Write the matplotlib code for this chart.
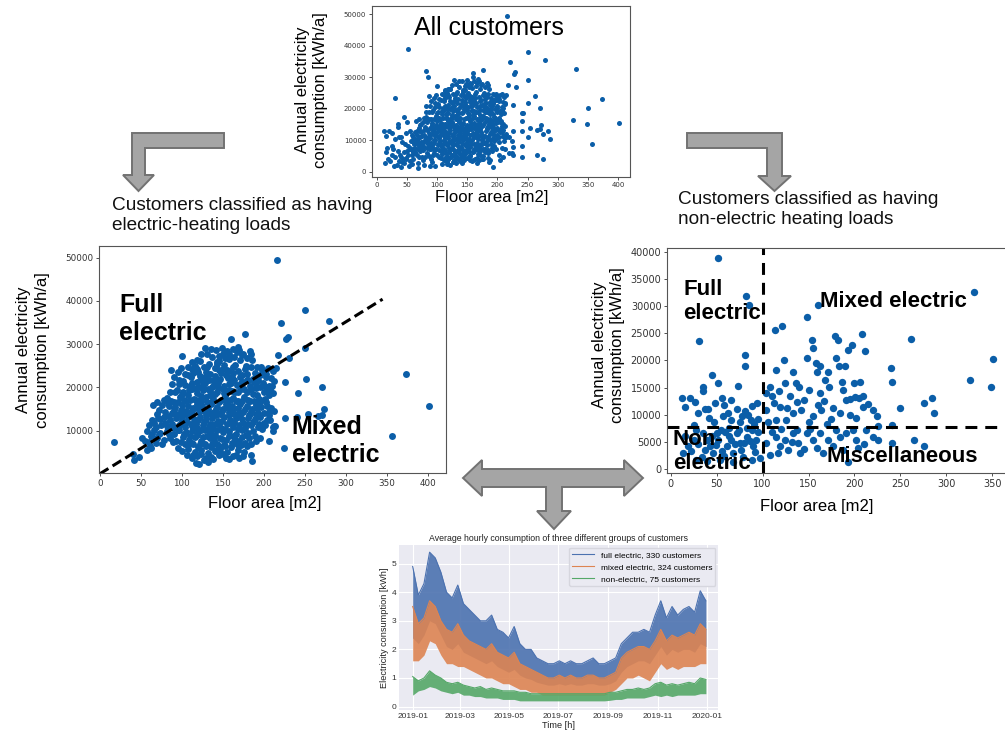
import numpy as np
import pandas as pd
import matplotlib
matplotlib.use('Agg')
import matplotlib.pyplot as plt
import matplotlib.dates as mdates
from matplotlib.patches import Polygon

plt.rcParams['font.family'] = ['Liberation Sans', 'DejaVu Sans']

# ---------------------------------------------------------------- data
# customers with electric heating loads: (floor area m2, kWh/a)
elec_pts = [
    (216, 49500), (250, 37900), (279, 35300), (221, 34900), (227, 31100),
    (230, 31700), (250, 29000), (231, 26900), (217, 27400), (226, 21300),
    (251, 21900), (271, 20100), (242, 18700), (241, 13100), (254, 13900),
    (271, 13600), (273, 15000), (266, 13300), (373, 23200), (401, 15600),
    (356, 8700), (226, 12800), (215, 24400), (214, 11000), (17, 7400),
    (100, 27200), (119, 26400), (128, 29000), (142, 28700), (155, 28300),
    (160, 31300), (162, 28900), (167, 28200), (170, 28700), (177, 32400),
    (183, 28300), (150, 27600), (137, 27000), (175, 27800),
    (87, 24000), (108, 24700), (113, 25800), (122, 26200), (127, 24600),
    (133, 25300), (140, 24400), (146, 26000), (152, 25100), (158, 26500),
    (163, 24600), (171, 26300), (178, 25000), (186, 26400), (192, 24800),
    (198, 24000), (205, 24400), (145, 23900), (118, 24200), (155, 24000),
    (90, 22300), (95, 23500), (97, 20700), (102, 21500), (107, 22800),
    (110, 20200), (114, 23300), (118, 21200), (122, 22600), (126, 20500),
    (129, 23500), (133, 21800), (137, 20100), (141, 22700), (144, 21000),
    (148, 23300), (152, 20400), (156, 22200), (160, 21100), (163, 23400),
    (167, 20500), (171, 22400), (175, 21300), (179, 23100), (183, 20300),
    (187, 22000), (191, 20900), (195, 22800), (199, 21000), (203, 22400),
    (207, 20400), (209, 22100), (201, 23600), (213, 21500),
    (82, 17500), (86, 18900), (90, 16700), (94, 19500), (98, 17800),
    (101, 19000), (105, 16800), (108, 18200), (112, 19700), (115, 17200),
    (119, 18600), (123, 16800), (126, 19300), (130, 17700), (134, 19100),
    (137, 16600), (141, 18500), (144, 19800), (148, 17100), (151, 18800),
    (155, 16700), (158, 19400), (162, 17600), (165, 18900), (169, 16900),
    (172, 19600), (176, 17800), (180, 19000), (183, 16800), (187, 18400),
    (190, 19800), (194, 17400), (196, 17100), (200, 18900), (203, 16700),
    (206, 18300), (211, 18600), (208, 19700),
    (65, 16000), (72, 14800), (76, 15900), (80, 14300), (84, 15700),
    (88, 14000), (92, 15400), (96, 13800), (100, 16000), (103, 14600),
    (107, 15600), (111, 13900), (114, 15200), (118, 16100), (121, 14200),
    (125, 15600), (129, 13700), (132, 15000), (136, 16200), (139, 14300),
    (143, 15500), (147, 13800), (150, 15000), (154, 16100), (157, 14200),
    (161, 15600), (164, 13900), (168, 15300), (171, 16200), (175, 14400),
    (179, 15700), (182, 13700), (186, 15100), (190, 16000), (193, 14100),
    (197, 15400), (200, 14000), (204, 15800), (209, 15200), (212, 14600),
    (60, 11200), (64, 12500), (68, 10800), (71, 12900), (75, 11400),
    (78, 13200), (82, 11000), (86, 12400), (89, 10700), (93, 12900),
    (96, 11300), (100, 12600), (104, 10800), (107, 13100), (111, 11500),
    (115, 12700), (118, 10600), (122, 13200), (126, 11400), (129, 12600),
    (133, 10800), (137, 13000), (140, 11500), (144, 12300), (148, 10700),
    (151, 13200), (155, 11600), (159, 12400), (162, 10900), (166, 13000),
    (170, 11300), (173, 12600), (177, 10700), (181, 12900), (185, 11200),
    (189, 12700), (193, 10800), (196, 13200), (200, 11700), (204, 12500),
    (208, 12500), (211, 10900), (213, 11000),
    (52, 8200), (55, 7600), (58, 9900), (62, 8700), (66, 10100),
    (70, 8300), (74, 9500), (78, 7800), (82, 9900), (86, 8400),
    (90, 9300), (93, 7700), (97, 10200), (101, 8600), (105, 9700),
    (109, 7900), (112, 10000), (116, 8500), (120, 9600), (124, 7700),
    (128, 10100), (131, 8800), (135, 9400), (139, 7900), (143, 10200),
    (147, 8400), (150, 9600), (154, 7800), (158, 10000), (162, 8800),
    (166, 9300), (170, 7600), (174, 10200), (178, 9000), (182, 8400),
    (187, 10000), (191, 7500), (195, 8300), (207, 7500), (211, 9800),
    (40, 4600), (48, 4000), (58, 5400), (61, 6400), (63, 5900),
    (68, 7100), (95, 6000), (100, 5300), (104, 6800), (108, 5700),
    (112, 7200), (116, 5000), (120, 6300), (124, 5400), (128, 6900),
    (132, 4800), (136, 6100), (140, 5200), (143, 7000), (147, 5700),
    (151, 6600), (155, 5000), (160, 6200), (164, 7100), (168, 5500),
    (172, 6700), (176, 5100), (180, 6400), (225, 5900),
    (42, 3100), (112, 3600), (117, 2600), (121, 2300), (127, 3100),
    (136, 4000), (145, 4300), (158, 3400), (163, 4100), (185, 4400),
    (186, 3000), (132, 2800),
    # denser core of the cloud
    (131, 27800), (136, 28900), (146, 27300), (149, 29200), (153, 26800),
    (157, 27700), (164, 27100), (168, 29300), (173, 27500), (180, 26900),
    (185, 27600), (143, 25900), (124, 27600), (112, 24300),
    (99, 24500), (104, 23000), (111, 22300), (116, 25000), (120, 23600),
    (124, 21800), (128, 22300), (131, 24600), (135, 23100), (139, 21600),
    (143, 25300), (147, 22000), (150, 24200), (154, 22900), (158, 23800),
    (161, 22400), (165, 25200), (169, 23800), (173, 22900), (177, 24300),
    (181, 21800), (185, 24800), (189, 23300), (193, 21700), (197, 24800),
    (203, 23200), (211, 23800),
    (92, 19000), (96, 21800), (100, 18500), (104, 20600), (109, 19400),
    (113, 21000), (117, 19800), (121, 20000), (124, 18000), (128, 21000),
    (132, 19600), (135, 18200), (139, 20800), (143, 19000), (146, 21600),
    (150, 19600), (153, 18000), (157, 20800), (161, 19200), (164, 21800),
    (168, 19000), (172, 21000), (176, 19700), (180, 21800), (184, 19600),
    (188, 21200), (192, 18300), (196, 20000), (200, 20300), (204, 19400),
    (210, 20300), (88, 20800),
    (70, 16700), (78, 17000), (83, 16400), (87, 16900), (91, 14700),
    (95, 16600), (99, 14800), (103, 17100), (106, 14200), (110, 17000),
    (113, 14500), (117, 17000), (120, 15200), (124, 17300), (127, 14600),
    (131, 16700), (134, 14100), (138, 17200), (142, 14900), (145, 16700),
    (149, 14600), (152, 17200), (156, 15300), (159, 17100), (163, 14900),
    (166, 16800), (170, 14200), (174, 16900), (177, 15000), (181, 17100),
    (185, 14400), (188, 16900), (192, 15300), (196, 16500), (202, 17200),
    (207, 14400),
    (66, 11800), (70, 13800), (74, 12600), (79, 11800), (84, 13400),
    (88, 11600), (92, 13800), (95, 10200), (99, 11800), (102, 13900),
    (106, 12000), (110, 13800), (113, 11000), (117, 11600), (120, 12400),
    (124, 10200), (127, 12100), (131, 13900), (135, 11600), (138, 10300),
    (142, 13700), (146, 11500), (149, 12300), (153, 10400), (157, 13600),
    (160, 11700), (164, 12000), (168, 10400), (171, 13600), (175, 11800),
    (179, 11500), (183, 13800), (187, 11900), (191, 13900), (194, 11600),
    (198, 10400), (202, 11200), (206, 13600),
    (60, 7300), (64, 9300), (72, 9100), (76, 7000), (84, 9200),
    (89, 7300), (99, 7300), (103, 9200), (107, 6600), (110, 8800),
    (114, 7000), (118, 8900), (122, 6800), (126, 8600), (130, 6400),
    (134, 8200), (137, 6900), (141, 9000), (145, 6500), (149, 8000),
    (153, 6500), (157, 8800), (161, 7200), (165, 8000), (169, 6600),
    (173, 8600), (177, 7200), (181, 9400), (185, 7000), (189, 8800),
    (106, 4300), (114, 4300), (119, 4100), (123, 4700), (130, 3600),
    (138, 3400), (142, 5500), (150, 4500), (154, 3600), (166, 4400),
    (170, 3600), (175, 4200),
]

# customers with non-electric heating loads: (floor area m2, kWh/a)
nonelec_pts = [
    (52, 38800), (82, 31900), (85, 30200), (31, 23500), (81, 20900),
    (81, 19000), (45, 17300), (35, 15200), (51, 15900), (73, 15300),
    (12, 13000), (21, 13000), (16, 11500), (37, 11100), (41, 11000),
    (48, 12200), (56, 13100), (66, 12800), (72, 11100), (81, 10700),
    (84, 10000), (89, 11600), (94, 12200), (47, 8700), (57, 9700),
    (66, 9000), (75, 8700), (25, 8100), (95, 9300), (30, 10400),
    (62, 10400), (78, 9800), (91, 8400), (26, 12300), (58, 11800),
    (87, 9100), (42, 9500), (35, 14300),
    (13, 2900), (19, 4200), (25, 5400), (28, 1700), (35, 6600),
    (43, 4200), (46, 2900), (52, 5400), (54, 1700), (59, 6900),
    (61, 4200), (66, 5400), (68, 2900), (72, 6600), (75, 4800),
    (79, 2300), (83, 6000), (88, 1700), (90, 4200), (93, 5400),
    (97, 2000), (34, 2300), (39, 5400), (63, 7500), (83, 7500),
    (22, 3300), (30, 4700), (37, 3500), (49, 4400), (56, 3300),
    (64, 6200), (70, 4700), (77, 3600), (86, 5100), (95, 6800),
    (45, 6200), (55, 7200), (80, 4800), (68, 1300), (40, 1600),
    (16, 6200), (27, 7200), (88, 7200), (58, 2500), (92, 3200),
    (50, 6700), (74, 7300),
    (104, 10900), (108, 15200), (110, 13400), (115, 18300), (119, 11500),
    (118, 14300), (123, 20100), (124, 15800), (130, 13400), (133, 17900),
    (136, 15800), (138, 12400), (142, 10900), (148, 20400), (151, 14600),
    (154, 23800), (155, 22200), (158, 19500), (159, 17900), (162, 14000),
    (164, 10900), (168, 16400), (171, 17900), (172, 15200), (179, 24400),
    (182, 23800), (180, 20400), (183, 18900), (188, 14600), (191, 12700),
    (193, 21900), (197, 22900), (199, 15800), (206, 16100), (208, 24800),
    (209, 11500), (209, 13400), (212, 21800), (220, 10900), (224, 9700),
    (177, 11200), (184, 10300), (202, 9400), (115, 9100), (133, 10300),
    (155, 9700), (104, 14000), (114, 25600), (121, 26300), (148, 27900),
    (160, 30100), (330, 32600), (326, 16400), (349, 15200), (351, 20300),
    (240, 18600), (241, 16100), (262, 23900), (250, 11200), (276, 12100),
    (284, 13000), (287, 10400), (241, 8100), (112, 12200), (127, 11300),
    (145, 12800), (167, 12500), (175, 9200), (195, 12900), (201, 13200),
    (186, 16000), (163, 19000), (140, 15200), (125, 9000), (150, 8600),
    (170, 8300), (195, 9900), (215, 12000), (226, 8000), (106, 8600),
    (160, 11800), (190, 18900), (205, 13000),
    (104, 4800), (110, 6900), (115, 6000), (119, 4200), (124, 5400),
    (128, 3600), (133, 6600), (139, 4800), (141, 2900), (148, 6600),
    (155, 5400), (159, 3900), (166, 2900), (171, 5400), (177, 4200),
    (184, 6000), (191, 6600), (193, 1400), (202, 5400), (204, 3900),
    (213, 7200), (220, 6000), (226, 5400), (241, 4800), (265, 5400),
    (276, 4200), (162, 6600), (137, 7300), (108, 2600), (120, 7400),
    (145, 3700), (152, 7400), (180, 7300), (198, 7300), (210, 4600),
    (132, 5000), (117, 3000), (188, 3600),
]

# dividing line (left panel) and thresholds (right panel)
fit_area = [0, 345]
fit_cons = [0, 40400]
area_split = 100
cons_split = 7800

# weekly envelope (max / min of hourly values) of average consumption, kWh
week_start = '2019-01-01'
full_hi = [4.9, 3.9, 4.3, 5.4, 5.2, 4.7, 4.0, 3.8, 4.25, 3.6,
           3.4, 3.2, 3.0, 3.0, 3.2, 2.7, 2.6, 2.4, 2.8, 2.2,
           2.0, 2.0, 1.7, 1.6, 1.5, 1.5, 1.6, 1.5, 1.6, 1.5,
           1.5, 1.6, 1.7, 1.5, 1.5, 1.6, 1.7, 2.2, 2.4, 2.6,
           2.6, 2.7, 2.6, 3.2, 3.7, 3.1, 3.5, 3.2, 3.4, 3.5,
           3.3, 4.05, 3.7]
full_lo = [2.4, 2.2, 2.5, 3.0, 2.9, 2.5, 2.1, 2.0, 2.2, 1.9,
           1.8, 1.7, 1.6, 1.5, 1.6, 1.4, 1.3, 1.2, 1.3, 1.1,
           1.0, 0.95, 0.85, 0.8, 0.75, 0.75, 0.8, 0.75, 0.8, 0.75,
           0.75, 0.8, 0.8, 0.75, 0.75, 0.8, 0.9, 1.2, 1.4, 1.5,
           1.6, 1.6, 1.5, 1.8, 2.1, 1.8, 2.0, 1.9, 2.0, 2.0,
           1.9, 2.2, 2.1]
mixed_hi = [3.5, 2.9, 3.1, 3.7, 3.5, 3.0, 2.7, 2.6, 2.9, 2.5,
            2.3, 2.2, 2.1, 2.0, 2.2, 1.9, 1.8, 1.7, 1.9, 1.5,
            1.4, 1.3, 1.2, 1.1, 1.0, 1.0, 1.1, 1.0, 1.1, 1.0,
            1.0, 1.1, 1.1, 1.0, 1.0, 1.1, 1.2, 1.7, 1.9, 2.0,
            2.1, 2.1, 2.0, 2.3, 2.7, 2.3, 2.5, 2.4, 2.5, 2.6,
            2.5, 2.9, 2.7]
mixed_lo = [1.6, 1.6, 1.8, 2.3, 2.2, 1.8, 1.5, 1.5, 1.4, 1.4,
            1.3, 1.2, 1.1, 1.0, 1.0, 0.9, 0.8, 0.8, 0.7, 0.6,
            0.6, 0.5, 0.5, 0.4, 0.4, 0.4, 0.4, 0.4, 0.4, 0.4,
            0.4, 0.4, 0.4, 0.4, 0.4, 0.5, 0.6, 0.8, 1.0, 1.0,
            1.1, 1.0, 0.9, 1.2, 1.5, 1.3, 1.4, 1.3, 1.4, 1.4,
            1.4, 1.5, 1.5]
non_hi = [1.05, 0.9, 1.0, 1.25, 1.1, 1.0, 0.85, 0.8, 0.85, 0.75,
          0.7, 0.65, 0.7, 0.6, 0.65, 0.6, 0.55, 0.55, 0.55, 0.5,
          0.5, 0.45, 0.45, 0.45, 0.45, 0.45, 0.45, 0.45, 0.45, 0.45,
          0.45, 0.45, 0.45, 0.45, 0.45, 0.5, 0.5, 0.55, 0.6, 0.6,
          0.65, 0.6, 0.65, 0.8, 0.85, 0.75, 0.8, 0.75, 0.8, 0.85,
          0.8, 1.0, 0.95]
non_lo = [0.4, 0.55, 0.6, 0.7, 0.65, 0.55, 0.5, 0.45, 0.5, 0.4,
          0.4, 0.35, 0.35, 0.3, 0.3, 0.3, 0.25, 0.25, 0.25, 0.2,
          0.2, 0.2, 0.2, 0.2, 0.2, 0.2, 0.2, 0.2, 0.2, 0.2,
          0.2, 0.2, 0.2, 0.2, 0.2, 0.22, 0.25, 0.25, 0.3, 0.3,
          0.3, 0.3, 0.35, 0.4, 0.35, 0.4, 0.35, 0.4, 0.4, 0.4,
          0.4, 0.45, 0.45]
group_labels = ['full electric, 330 customers',
                'mixed electric, 324 customers',
                'non-electric, 75 customers']

################################################################################

dot = '#0b5ea8'
fig = plt.figure(figsize=(10.05, 7.31), dpi=100)

# overlay for arrows and captions (pixel coordinates)
ov = fig.add_axes([0, 0, 1, 1])
ov.set_xlim(0, 1005)
ov.set_ylim(731, 0)
ov.axis('off')
arrow_kw = dict(closed=True, facecolor='#a5a5a5', edgecolor='#727272', lw=1.4)
ov.add_patch(Polygon([(224, 133), (132, 133), (132, 175), (123, 175), (138.5, 191),
                      (154, 175), (145, 175), (145, 148), (224, 148)], **arrow_kw))
ov.add_patch(Polygon([(687, 133), (782, 133), (782, 176), (791, 176), (774.5, 191),
                      (758, 176), (767, 176), (767, 148), (687, 148)], **arrow_kw))
ov.add_patch(Polygon([(463, 478), (482, 460), (482, 469), (624, 469), (624, 460),
                      (643, 478), (624, 496), (624, 487), (562, 487), (562, 511),
                      (571, 511), (554, 529), (537, 511), (546, 511), (546, 487),
                      (482, 487), (482, 496)], **arrow_kw))
ov.text(112, 215.5, 'Customers classified as having\nelectric-heating loads',
        fontsize=13.7, ha='left', va='center', color='#111111')
ov.text(678, 209.5, 'Customers classified as having\nnon-electric heating loads',
        fontsize=13.7, ha='left', va='center', color='#111111')

elec = np.array(elec_pts)
nonelec = np.array(nonelec_pts)
all_pts = np.vstack([elec, nonelec])


def scatter_panel(rect, pts, size, tick_fs, xlim, ylim, xticks, yticks):
    ax = fig.add_axes(rect)
    ax.scatter(pts[:, 0], pts[:, 1], s=size, color=dot, linewidths=0, zorder=1)
    ax.set_xlim(*xlim)
    ax.set_ylim(*ylim)
    ax.set_xticks(xticks)
    ax.set_yticks(yticks)
    ax.tick_params(labelsize=tick_fs, length=2.5, width=0.6, pad=1.5,
                   colors='#333333')
    for t in ax.get_xticklabels() + ax.get_yticklabels():
        t.set_fontfamily('DejaVu Sans')
    for s in ax.spines.values():
        s.set_color('#555555')
        s.set_linewidth(0.8)
    return ax


# all customers
ax1 = scatter_panel([0.370, 0.758, 0.257, 0.234], all_pts, 13, 5,
                    (-8, 420), (-1600, 52600), range(0, 401, 50),
                    range(0, 50001, 10000))
ax1.text(0.453, 0.871, 'All customers', transform=ax1.transAxes,
         fontsize=18, ha='center', va='center')
ax1.set_ylabel('Annual electricity\nconsumption [kWh/a]', fontsize=12)
ax1.yaxis.set_label_coords(-0.171, 0.509)
ax1.set_xlabel('Floor area [m2]', fontsize=12)
ax1.xaxis.set_label_coords(0.465, -0.078)

# electric heating
ax2 = scatter_panel([0.0985, 0.353, 0.345, 0.3105], elec, 25, 6.3,
                    (-1, 422), (200, 52700), range(0, 401, 50),
                    range(10000, 50001, 10000))
ax2.plot(fit_area, fit_cons, color='black', lw=2.2, ls=(0, (3.3, 1.6)), zorder=2)
ax2.text(24, 41800, 'Full\nelectric', fontsize=18, fontweight='bold', va='top')
ax2.text(234, 13630, 'Mixed\nelectric', fontsize=18, fontweight='bold', va='top')
ax2.set_ylabel('Annual electricity\nconsumption [kWh/a]', fontsize=12,
               linespacing=1.35)
ax2.yaxis.set_label_coords(-0.141, 0.542)
ax2.set_xlabel('Floor area [m2]', fontsize=12)
ax2.xaxis.set_label_coords(0.478, -0.101)

# non-electric heating
ax3 = scatter_panel([0.6637, 0.353, 0.341, 0.308], nonelec, 28, 7,
                    (-4, 369), (-680, 40680), range(0, 351, 50),
                    range(0, 40001, 5000))
ax3.axvline(area_split, color='black', lw=2.2, ls=(0, (3.9, 2.6)), zorder=2)
ax3.axhline(cons_split, color='black', lw=2.2, ls=(0, (3.9, 2.6)), zorder=2)
ax3.text(13.4, 34980, 'Full\nelectric', fontsize=16, fontweight='bold', va='top')
ax3.text(162, 29890, 'Mixed electric', fontsize=16, fontweight='bold', va='baseline')
ax3.text(2.5, 7460, 'Non-\nelectric', fontsize=16, fontweight='bold', va='top')
ax3.text(170, 1400, 'Miscellaneous', fontsize=16, fontweight='bold', va='baseline')
ax3.set_ylabel('Annual electricity\nconsumption [kWh/a]', fontsize=12,
               linespacing=1.3)
ax3.yaxis.set_label_coords(-0.122, 0.569)
ax3.set_xlabel('Floor area [m2]', fontsize=12)
ax3.xaxis.set_label_coords(0.437, -0.116)

# hourly consumption of the three groups
weeks = pd.date_range(week_start, periods=len(full_hi), freq='7D')
ax4 = fig.add_axes([0.397, 0.0287, 0.3174, 0.2257])
ax4.set_facecolor('#EAEAF2')
for s in ax4.spines.values():
    s.set_visible(False)
ax4.grid(color='white', lw=0.8)
ax4.set_axisbelow(True)
colors = ['#4C72B0', '#DD8452', '#55A868']
for hi, lo, c, lab in zip([full_hi, mixed_hi, non_hi], [full_lo, mixed_lo, non_lo],
                          colors, group_labels):
    ax4.fill_between(weeks, lo, hi, color=c, alpha=0.9, lw=0)
    ax4.plot(weeks, hi, color=c, lw=0.8, label=lab)
ax4.set_xlim(pd.Timestamp('2018-12-15'), pd.Timestamp('2020-01-15'))
ax4.set_ylim(-0.12, 5.65)
ax4.xaxis.set_major_locator(mdates.MonthLocator(bymonth=[1, 3, 5, 7, 9, 11]))
ax4.xaxis.set_major_formatter(mdates.DateFormatter('%Y-%m'))
ax4.tick_params(labelsize=6, length=0, pad=2, colors='#333333')
ax4.set_title('Average hourly consumption of three different groups of customers',
              fontsize=6.3, pad=3, color='#222222')
ax4.set_xlabel('Time [h]', fontsize=6.6, labelpad=1, color='#222222')
ax4.set_ylabel('Electricity consumption [kWh]', fontsize=6.6, labelpad=2, color='#222222')
ax4.legend(loc='upper right', fontsize=6, facecolor='#EAEAF2', edgecolor='#d6d6de',
           framealpha=1, borderaxespad=0.3, handlelength=2.6)

fig.savefig('out.png', dpi=100)
